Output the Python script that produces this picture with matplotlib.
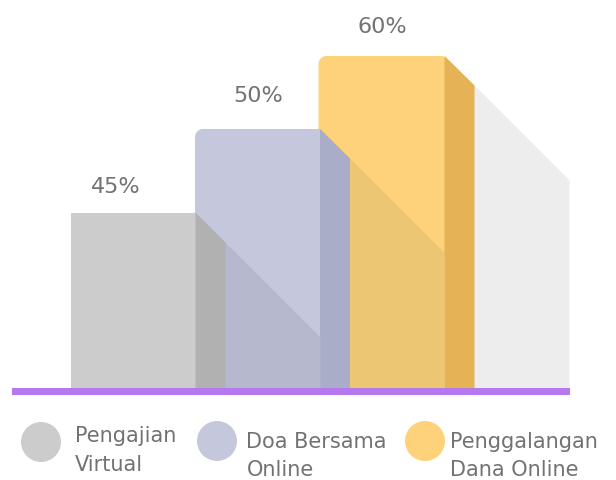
import matplotlib
matplotlib.use("Agg")
import matplotlib.pyplot as plt
from matplotlib.patches import Polygon, Rectangle
import numpy as np

# ---------------- data ----------------
categories = ["Pengajian\nVirtual", "Doa Bersama\nOnline", "Penggalangan\nDana Online"]
values = [45, 50, 60]
value_labels = [f"{v}%" for v in values]
bar_heights = [175, 259, 332]          # drawn (visual) bar heights

front_colors = ["#cccccc", "#c5c8dc", "#fdd27a"]
side_colors = ["#b1b1b1", "#a9adc7", "#e5b256"]
cast_colors = ["#b6b9cd", "#edc673", "#ededed"]   # shadow each bar casts to its right
legend_colors = ["#cccccc", "#c5c8dc", "#fdd27a"]
text_color = "#727272"
base_color = "#b678ef"

# ---------------- layout ----------------
W, H = 616, 481
U = 124.5          # pixels per bar slot
X0 = 71.5          # pixel x of first bar
Y0 = 389           # pixel y of baseline (from top)
D = 29.5 / U       # side-face depth in bar units
SLOPE = U          # 45-degree light in data units
EPS = 1.0 / U      # one-pixel overlap to avoid antialias seams

fig = plt.figure(figsize=(W / 100, H / 100), dpi=100)
ax = fig.add_axes([0, 0, 1, 1])
ax.set_xlim(-X0 / U, (W - X0) / U)
ax.set_ylim(-(H - Y0), Y0)
ax.axis("off")


def px(x, y):
    """pixel coords (from top-left) -> data coords"""
    return (x - X0) / U, Y0 - y


def front_poly(x0, x1, h, r_tl, r_tr, n=12):
    pts = [(x0, 0)]
    if r_tl > 0:
        cx, cy = x0 + r_tl / U, h - r_tl
        for t in np.linspace(np.pi, np.pi / 2, n):
            pts.append((cx + np.cos(t) * r_tl / U, cy + np.sin(t) * r_tl))
    else:
        pts.append((x0, h))
    if r_tr > 0:
        cx, cy = x1 - r_tr / U, h - r_tr
        for t in np.linspace(np.pi / 2, 0, n):
            pts.append((cx + np.cos(t) * r_tr / U, cy + np.sin(t) * r_tr))
    else:
        pts.append((x1, h))
    pts.append((x1, 0))
    return pts


r_tl = [0, 8, 8]
r_tr = [0, 3, 4]

for i in reversed(range(len(values))):
    h = bar_heights[i]
    x0, x1 = i, i + 1
    # front face (extends one pixel left to cover seams)
    ax.add_patch(Polygon(front_poly(x0 - EPS if i < 2 else x0 - 2 * EPS, x1, h, r_tl[i], r_tr[i]),
                         closed=True, facecolor=front_colors[i], edgecolor="none",
                         zorder=2 + (3 - i) * 3))
    # cast shadow onto the next slot
    ax.add_patch(Polygon([(x1 - EPS, h + SLOPE * EPS), (x1 + 1, h - SLOPE), (x1 + 1, 0), (x1 - EPS, 0)],
                         closed=True, facecolor=cast_colors[i], edgecolor="none",
                         zorder=3 + (3 - i) * 3))
    # side face
    ax.add_patch(Polygon([(x1 - 0.5 * EPS, h), (x1 + D, h - SLOPE * D), (x1 + D, 0), (x1 - 0.5 * EPS, 0)],
                         closed=True, facecolor=side_colors[i], edgecolor="none",
                         zorder=4 + (3 - i) * 3))
    # redraw front edge on top of its own shadow start
    ax.add_patch(Polygon(front_poly(x0, x1, h, r_tl[i], r_tr[i]), closed=True,
                         facecolor=front_colors[i], edgecolor="none", zorder=3.5 + (3 - i) * 3))

# baseline
bx0, _ = px(12, 0)
bx1, _ = px(570, 0)
ax.add_patch(Rectangle((bx0, -7), bx1 - bx0, 7.5, facecolor=base_color, edgecolor="none", zorder=20))

# value labels
label_px = [116, 258, 382]
label_gap = [21, 28, 24]
for i, lab in enumerate(value_labels):
    lx, _ = px(label_px[i], 0)
    ax.text(lx, bar_heights[i] + label_gap[i], lab, ha="center", va="baseline",
            fontsize=16, color=text_color, family="DejaVu Sans", zorder=25)

# legend
circ_px = [(41, 443), (217, 442), (425, 442)]
text_px = [(75, 441.7, 471), (246.5, 447.7, 476), (450, 447.7, 476)]
for i, cat in enumerate(categories):
    cx, cy = px(*circ_px[i])
    ax.scatter([cx], [cy], s=(40 * 0.72) ** 2, color=legend_colors[i], edgecolors="none", zorder=25)
    l1, l2 = cat.split("\n")
    tx, ty1 = px(text_px[i][0], text_px[i][1])
    _, ty2 = px(text_px[i][0], text_px[i][2])
    ax.text(tx, ty1, l1, ha="left", va="baseline", fontsize=15, color=text_color,
            family="DejaVu Sans", zorder=25)
    ax.text(tx, ty2, l2, ha="left", va="baseline", fontsize=15, color=text_color,
            family="DejaVu Sans", zorder=25)

fig.savefig("out.png", dpi=100)
